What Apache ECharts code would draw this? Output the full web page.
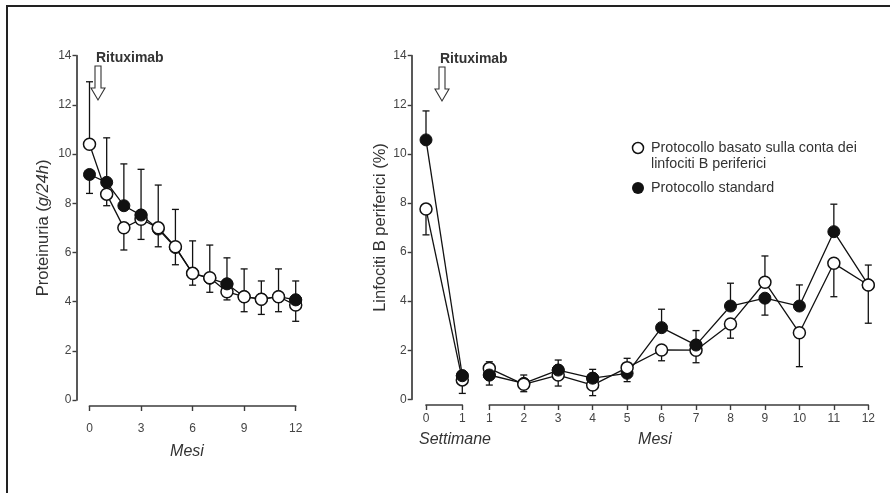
<!DOCTYPE html>
<html><head><meta charset="utf-8">
<script src="https://cdn.jsdelivr.net/npm/echarts@6/dist/echarts.min.js"></script>
<style>html,body{margin:0;padding:0;background:#fff}#c{width:890px;height:493px}</style>
</head><body><div id="c"></div>
<script>
// ---- Left panel: Proteinuria (g/24h) by month ----
const leftMonths = [0,1,2,3,4,5,6,7,8,9,10,11,12];
const leftTicks = [0,3,6,9,12];
const leftOpen   = [10.4, 8.37, 7.0, 7.35, 7.0, 6.23, 5.15, 4.97, 4.4, 4.2, 4.1, 4.2, 3.86];
const leftOpenHi = [12.94, null, null, null, 8.74, 7.75, 6.47, 6.3, null, 5.33, 4.84, 5.33, null];
const leftOpenLo = [null, 7.9, 6.1, 6.53, 6.23, 5.5, 4.67, 4.38, 4.07, 3.59, 3.48, 3.59, 3.2];
const leftStd    = [9.17, 8.85, 7.9, 7.52, 6.95, 6.2, 5.15, 4.95, 4.72, 4.2, 4.1, 4.2, 4.07];
const leftStdHi  = [null, 10.66, 9.6, 9.38, null, null, null, null, 5.78, null, null, null, 4.84];
const leftStdLo  = [8.4, null, null, null, null, null, null, null, null, null, null, null, null];
const leftStdOnTop = [3, 8, 12];

// ---- Right panel: Linfociti B periferici (%) ----
const weeks = [0, 1];
const wOpen   = [7.75, 0.79];
const wOpenHi = [null, null];
const wOpenLo = [6.7, 0.24];
const wStd    = [10.57, 0.96];
const wStdHi  = [11.75, null];
const wStdLo  = [null, null];
const wStdOnTop = [1];

const rMonths = [1,2,3,4,5,6,7,8,9,10,11,12];
const rOpen   = [1.26, 0.61, 0.99, 0.58, 1.29, 2.01, 2.0, 3.07, 4.77, 2.71, 5.54, 4.66];
const rOpenHi = [1.53, 0.99, null, null, 1.67, null, null, null, 5.84, null, null, 5.47];
const rOpenLo = [null, 0.31, 0.54, 0.15, null, 1.57, 1.49, 2.49, null, 1.33, 4.18, 3.1];
const rStd    = [0.99, 0.65, 1.19, 0.86, 1.06, 2.92, 2.21, 3.8, 4.12, 3.8, 6.83, 4.66];
const rStdHi  = [null, null, 1.6, 1.22, null, 3.67, 2.8, 4.73, null, 4.66, 7.95, null];
const rStdLo  = [0.58, null, null, null, 0.72, null, null, null, 3.43, null, null, null];
const rStdOnTop = [1, 3, 4, 7];

const yTicks = [0,2,4,6,8,10,12,14];
const openName = 'Protocollo basato sulla conta dei linfociti B periferici';
const stdName = 'Protocollo standard';

const INK = '#111';
const AX = '#3c3c3c';
const TXT = '#444';
const FONT = 'Liberation Sans, Arial, sans-serif';

function pairs(xs, v) { return xs.map((x, i) => [x, v[i]]); }
function errs(xs, v, ends) {
  return xs.map((x, i) => ends[i] == null ? null : [x, v[i], ends[i]]).filter(Boolean);
}
function pick(xs, v, idx) { return xs.map((x, i) => [x, v[i]]).filter(p => idx.indexOf(p[0]) >= 0); }

function errSeries(gi, data) {
  return {
    type: 'custom', xAxisIndex: gi, yAxisIndex: gi, z: 1, clip: false, silent: true,
    dimensions: ['x', 'v', 'e'], encode: { x: 0, y: [1, 2] },
    data: data,
    renderItem: function (params, api) {
      const p0 = api.coord([api.value(0), api.value(1)]);
      const p1 = api.coord([api.value(0), api.value(2)]);
      return { type: 'group', children: [
        { type: 'line', shape: { x1: p0[0], y1: p0[1], x2: p1[0], y2: p1[1] }, style: { stroke: INK, lineWidth: 1.3 } },
        { type: 'line', shape: { x1: p1[0] - 3.5, y1: p1[1], x2: p1[0] + 3.5, y2: p1[1] }, style: { stroke: INK, lineWidth: 1.3 } }
      ]};
    }
  };
}
function lineSeries(gi, name, data) {
  return { type: 'line', name: name, xAxisIndex: gi, yAxisIndex: gi, z: 2, data: data,
    symbol: 'none', lineStyle: { color: INK, width: 1.3 }, silent: true };
}
function markSeries(gi, name, data, filled, z) {
  return { type: 'scatter', name: name, xAxisIndex: gi, yAxisIndex: gi, z: z, data: data,
    symbol: 'circle', symbolSize: 12,
    itemStyle: filled ? { color: INK, borderColor: INK, borderWidth: 1, opacity: 1 } : { color: '#fff', borderColor: INK, borderWidth: 1.5, opacity: 1 },
    silent: true };
}
function panelSeries(gi, xs, o, oHi, oLo, s, sHi, sLo, top) {
  return [
    errSeries(gi, errs(xs, o, oHi).concat(errs(xs, o, oLo)).concat(errs(xs, s, sHi)).concat(errs(xs, s, sLo))),
    lineSeries(gi, openName, pairs(xs, o)),
    lineSeries(gi, stdName, pairs(xs, s)),
    markSeries(gi, stdName, pairs(xs, s), true, 3),
    markSeries(gi, openName, pairs(xs, o), false, 4),
    markSeries(gi, stdName, pick(xs, s, top), true, 5)
  ];
}

const yBase = {
  type: 'value', min: yTicks[0], max: yTicks[yTicks.length - 1], interval: yTicks[1] - yTicks[0],
  splitLine: { show: false },
  axisLine: { show: true, onZero: false, lineStyle: { color: AX, width: 1.7 } },
  axisTick: { show: true, length: 4, lineStyle: { color: AX, width: 1.4 } },
  axisLabel: { color: TXT, fontSize: 12, fontFamily: FONT, margin: 5 },
  nameLocation: 'middle', nameRotate: 90
};
function xBase(extra) {
  return Object.assign({
    type: 'value', splitLine: { show: false },
    axisLine: { show: true, onZero: false, lineStyle: { color: AX, width: 1.7 } },
    axisTick: { show: true, length: 5, lineStyle: { color: AX, width: 1.4 } },
    axisLabel: { color: TXT, fontSize: 12, fontFamily: FONT }
  }, extra);
}

const chart = echarts.init(document.getElementById('c'), null, { renderer: 'canvas' });

function arrow(cx, top, tip) {
  const sw = 3, hw = 7, hh = 12;
  return { type: 'polygon', z: 10,
    shape: { points: [[cx - sw, top], [cx + sw, top], [cx + sw, tip - hh], [cx + hw, tip - hh], [cx, tip], [cx - hw, tip - hh], [cx - sw, tip - hh]] },
    style: { fill: '#fff', stroke: '#333', lineWidth: 1.1 } };
}
const nameFont = 'italic 16px ' + FONT;

chart.setOption({
  animation: false,
  backgroundColor: '#fff',
  textStyle: { fontFamily: FONT },
  grid: [
    { left: 89.5, top: 55.7, width: 206.2, height: 344.3, containLabel: false },
    { left: 426, top: 55.7, width: 36.3, height: 343.6, containLabel: false },
    { left: 489.3, top: 55.7, width: 379, height: 343.6, containLabel: false }
  ],
  xAxis: [
    xBase({ gridIndex: 0, min: leftTicks[0], max: leftTicks[leftTicks.length - 1], interval: leftTicks[1] - leftTicks[0], offset: 6,
      axisLabel: { color: TXT, fontSize: 12, fontFamily: FONT, margin: 17 } }),
    xBase({ gridIndex: 1, min: weeks[0], max: weeks[weeks.length - 1], interval: 1, offset: 5.7,
      axisLabel: { color: TXT, fontSize: 12, fontFamily: FONT, margin: 8 } }),
    xBase({ gridIndex: 2, min: rMonths[0], max: rMonths[rMonths.length - 1], interval: 1, offset: 5.7,
      axisLabel: { color: TXT, fontSize: 12, fontFamily: FONT, margin: 8 } })
  ],
  yAxis: [
    Object.assign({}, yBase, { gridIndex: 0, offset: 13, nameGap: 25,
      name: '{n|Proteinuria (}{i|g/24h}{n|)}',
      nameTextStyle: { color: '#333', fontSize: 16.5, fontFamily: FONT,
        rich: { n: { fontSize: 16.5, color: '#333', fontFamily: FONT }, i: { fontSize: 16.5, color: '#333', fontStyle: 'italic', fontFamily: FONT } } } }),
    Object.assign({}, yBase, { gridIndex: 1, offset: 14.3, nameGap: 20,
      name: 'Linfociti B periferici (%)',
      nameTextStyle: { color: '#333', fontSize: 16.5, fontFamily: FONT } }),
    Object.assign({}, yBase, { gridIndex: 2, show: false })
  ],
  graphic: [
    { type: 'rect', shape: { x: 7, y: 6, width: 920, height: 520 }, style: { fill: 'none', stroke: '#222', lineWidth: 2 }, z: 20 },
    { type: 'text', x: 187, y: 452, style: { text: 'Mesi', fill: '#333', font: nameFont, textAlign: 'center', textVerticalAlign: 'middle' } },
    { type: 'text', x: 455, y: 440, style: { text: 'Settimane', fill: '#333', font: nameFont, textAlign: 'center', textVerticalAlign: 'middle' } },
    { type: 'text', x: 655, y: 440, style: { text: 'Mesi', fill: '#333', font: nameFont, textAlign: 'center', textVerticalAlign: 'middle' } },
    { type: 'text', x: 96, y: 58, style: { text: 'Rituximab', fill: '#333', font: 'bold 14px ' + FONT, textAlign: 'left', textVerticalAlign: 'middle' } },
    { type: 'text', x: 440, y: 59, style: { text: 'Rituximab', fill: '#333', font: 'bold 14px ' + FONT, textAlign: 'left', textVerticalAlign: 'middle' } },
    arrow(98, 66, 100),
    arrow(442, 67, 101),
    { type: 'circle', shape: { cx: 638, cy: 148, r: 5.5 }, style: { fill: '#fff', stroke: INK, lineWidth: 1.5 } },
    { type: 'text', x: 651, y: 140, style: { text: 'Protocollo basato sulla conta dei\nlinfociti B periferici', fill: '#333', font: '14.3px ' + FONT, lineHeight: 16, textAlign: 'left', textVerticalAlign: 'top' } },
    { type: 'circle', shape: { cx: 638, cy: 188, r: 6 }, style: { fill: INK } },
    { type: 'text', x: 651, y: 188, style: { text: stdName, fill: '#333', font: '14.3px ' + FONT, textAlign: 'left', textVerticalAlign: 'middle' } }
  ],
  series: [].concat(
    panelSeries(0, leftMonths, leftOpen, leftOpenHi, leftOpenLo, leftStd, leftStdHi, leftStdLo, leftStdOnTop),
    panelSeries(1, weeks, wOpen, wOpenHi, wOpenLo, wStd, wStdHi, wStdLo, wStdOnTop),
    panelSeries(2, rMonths, rOpen, rOpenHi, rOpenLo, rStd, rStdHi, rStdLo, rStdOnTop)
  )
});
</script>
</body></html>
